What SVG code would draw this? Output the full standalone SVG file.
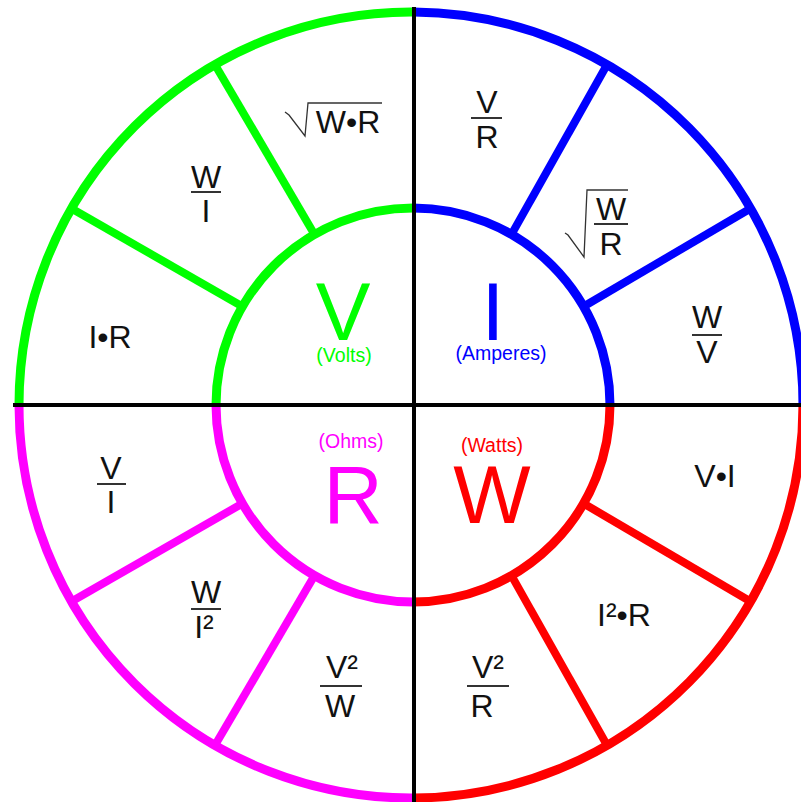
<svg xmlns="http://www.w3.org/2000/svg" width="801" height="802" viewBox="0 0 801 802">
<style>
.ring{fill:none;stroke-width:9}
.div{stroke-width:8;stroke-linecap:butt}
.g{stroke:#00FF00}.b{stroke:#0000FF}.r{stroke:#FF0000}.m{stroke:#FF00FF}
.f{font-family:"Liberation Sans",Arial,sans-serif;font-size:32px;fill:#111;text-anchor:middle}
.big{font-family:"Liberation Sans",Arial,sans-serif;font-size:82px;text-anchor:middle}
.sub{font-family:"Liberation Sans",Arial,sans-serif;font-size:19.5px;text-anchor:middle}
.bar{stroke:#333;stroke-width:2}
.rad{fill:none;stroke:#333;stroke-width:1.3}
.axis{stroke:#000;stroke-width:4}
</style>
<rect width="801" height="802" fill="#fff"/>
<g id="connectors">
<g id="rings">
<path class="ring g" d="M19,405 A392,393 0 0 1 414,12"/>
<path class="ring b" d="M414,12 A392,393 0 0 1 803,405"/>
<path class="ring r" d="M803,405 A392,393 0 0 1 414,798"/>
<path class="ring m" d="M414,798 A392,393 0 0 1 19,405"/>
<path class="ring g" d="M216,405 A197,197 0 0 1 413,208"/>
<path class="ring b" d="M413,208 A197,197 0 0 1 610,405"/>
<path class="ring r" d="M610,405 A197,197 0 0 1 413,602"/>
<path class="ring m" d="M413,602 A197,197 0 0 1 216,405"/>
</g>
<g id="dividers">
<line class="div g" x1="314.5" y1="234.4" x2="215" y2="64.7"/>
<line class="div g" x1="242.4" y1="306.5" x2="71.5" y2="208.5"/>
<line class="div b" x1="511.5" y1="234.4" x2="607" y2="64.7"/>
<line class="div b" x1="583.6" y1="306.5" x2="750.5" y2="208.5"/>
<line class="div r" x1="583.6" y1="503.5" x2="750.5" y2="601.5"/>
<line class="div r" x1="511.5" y1="575.6" x2="607" y2="745.3"/>
<line class="div m" x1="242.4" y1="503.5" x2="71.5" y2="601.5"/>
<line class="div m" x1="314.5" y1="575.6" x2="215" y2="745.3"/>
</g>
<g id="axes">
<line class="axis" x1="414" y1="7" x2="414" y2="802"/>
<line class="axis" x1="13" y1="405" x2="801" y2="405"/>
</g>
</g>
<g id="node-V">
<text class="big" x="343" y="340" fill="#00FF00">V</text>
<text class="sub" x="344" y="362" fill="#00FF00">(Volts)</text>
</g>
<g id="node-I">
<text class="big" x="493" y="340" fill="#0000FF">I</text>
<text class="sub" x="501" y="360" fill="#0000FF">(Amperes)</text>
</g>
<g id="node-R">
<text class="sub" x="351" y="448" fill="#FF00FF">(Ohms)</text>
<text class="big" x="353" y="523" fill="#FF00FF">R</text>
</g>
<g id="node-W">
<text class="sub" x="492" y="452" fill="#FF0000">(Watts)</text>
<text class="big" x="492" y="523" fill="#FF0000">W</text>
</g>
<g id="V-sqrtWR">
<path class="rad" d="M285,112 L289,115 L305,136 L308,103 L382,103"/>
<text class="f" x="348" y="133">W•R</text>
</g>
<g id="V-W-over-I">
<text class="f" x="206" y="188">W</text>
<line class="bar" x1="191" y1="192" x2="221" y2="192"/>
<text class="f" x="206" y="222">I</text>
</g>
<g id="V-IR">
<text class="f" x="110" y="348">I•R</text>
</g>
<g id="I-V-over-R">
<text class="f" x="487" y="113">V</text>
<line class="bar" x1="471" y1="118" x2="502" y2="118"/>
<text class="f" x="487" y="148">R</text>
</g>
<g id="I-sqrtWoverR">
<path class="rad" d="M565,233 L568,235 L584,257 L587,190 L628,190"/>
<text class="f" x="611" y="220">W</text>
<line class="bar" x1="594" y1="224" x2="628" y2="224"/>
<text class="f" x="611" y="255">R</text>
</g>
<g id="I-W-over-V">
<text class="f" x="707" y="328">W</text>
<line class="bar" x1="692" y1="335" x2="722" y2="335"/>
<text class="f" x="707" y="363">V</text>
</g>
<g id="R-V-over-I">
<text class="f" x="111" y="479">V</text>
<line class="bar" x1="97" y1="484" x2="126" y2="484"/>
<text class="f" x="111" y="513">I</text>
</g>
<g id="R-W-over-I2">
<text class="f" x="206" y="603">W</text>
<line class="bar" x1="191" y1="609" x2="221" y2="609"/>
<text class="f" x="204" y="638">I²</text>
</g>
<g id="R-V2-over-W">
<text class="f" x="342" y="678">V²</text>
<line class="bar" x1="320" y1="686" x2="362" y2="686"/>
<text class="f" x="340" y="717">W</text>
</g>
<g id="W-VI">
<text class="f" x="715" y="487">V•I</text>
</g>
<g id="W-I2R">
<text class="f" x="624" y="626">I²•R</text>
</g>
<g id="W-V2-over-R">
<text class="f" x="488" y="678">V²</text>
<line class="bar" x1="467" y1="686" x2="509" y2="686"/>
<text class="f" x="482" y="717">R</text>
</g>
</svg>
